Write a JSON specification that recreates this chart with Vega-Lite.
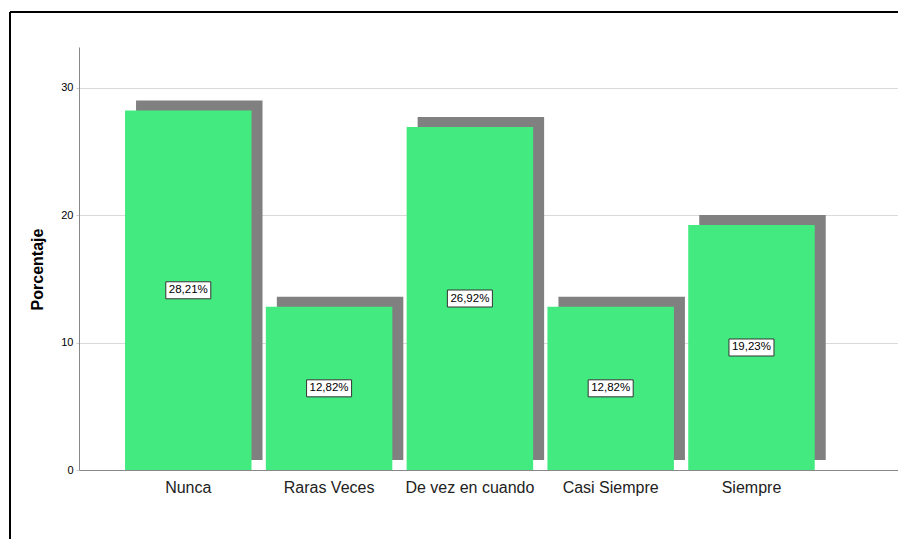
{
  "$schema": "https://vega.github.io/schema/vega-lite/v6.json",
  "width": 888,
  "height": 527,
  "autosize": {"type": "none"},
  "padding": {"left": 10, "top": 12, "right": 0, "bottom": 0},
  "background": "white",
  "config": {
    "view": {"stroke": "#000000", "strokeWidth": 2, "strokeDash": [888, 1415, 527, 0]},
    "font": "Liberation Sans"
  },
  "data": {
    "values": [
      {"cat": "Nunca", "pct": 28.21, "label": "28,21%"},
      {"cat": "Raras Veces", "pct": 12.82, "label": "12,82%"},
      {"cat": "De vez en cuando", "pct": 26.92, "label": "26,92%"},
      {"cat": "Casi Siempre", "pct": 12.82, "label": "12,82%"},
      {"cat": "Siempre", "pct": 19.23, "label": "19,23%"}
    ]
  },
  "resolve": {"scale": {"y": "independent"}},
  "layer": [
    {
      "encoding": {
        "x": {
          "field": "cat", "type": "nominal", "sort": null,
          "scale": {"range": [69, 888], "paddingInner": 0.1016, "paddingOuter": 0.4592, "align": 0.356},
          "axis": {"title": null, "offset": -69, "ticks": false, "grid": false, "domainColor": "#888888", "labelFontSize": 16, "labelColor": "#222222", "labelPadding": 9, "labelAngle": 0}
        },
        "y": {
          "field": "pct", "type": "quantitative",
          "scale": {"domain": [0, 33.2], "range": [458, 35], "nice": false},
          "axis": {"title": "Porcentaje", "titleFontSize": 16, "titleFontWeight": "bold", "titleColor": "#000000", "titlePadding": 15, "titleY": 257, "offset": -69, "values": [0, 10, 20, 30], "tickSize": 3, "tickColor": "#cccccc", "domainColor": "#888888", "grid": true, "gridColor": "#d9d9d9", "labelFontSize": 11, "labelColor": "#000000", "labelPadding": 3}
        }
      },
      "layer": [
        {"mark": {"type": "bar", "color": "#808080", "xOffset": 11, "x2Offset": 11, "yOffset": -10, "y2Offset": -10}},
        {"mark": {"type": "bar", "color": "#42EA80"}}
      ]
    },
    {
      "encoding": {
        "x": {"field": "cat", "type": "nominal", "sort": null},
        "y": {
          "field": "pct", "type": "quantitative",
          "scale": {"domain": [0, 66.4], "range": [458, 35], "nice": false},
          "axis": null
        }
      },
      "layer": [
        {"mark": {"type": "tick", "color": "#ffffff", "stroke": "#333333", "strokeWidth": 1, "size": 45, "thickness": 17, "opacity": 1}},
        {"mark": {"type": "text", "font": "Liberation Sans", "fontSize": 11.5, "color": "#000000", "align": "center", "baseline": "middle"}, "encoding": {"text": {"field": "label"}}}
      ]
    }
  ]
}
